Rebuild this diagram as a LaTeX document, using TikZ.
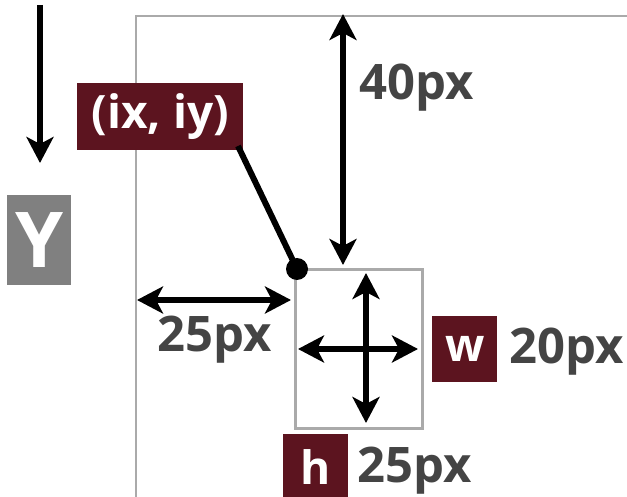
\documentclass[tikz,border=0pt]{standalone}
\usepackage{fontspec}
\setmainfont{Open Sans}
\usetikzlibrary{arrows.meta}
\definecolor{maroon}{HTML}{5C141F}
\definecolor{frame}{HTML}{AAAAAA}
\definecolor{dark}{HTML}{444444}
\definecolor{ygray}{HTML}{808080}
\tikzset{
  hd/.tip={Stealth[length=26pt,width=27pt,inset=7pt]},
  arr/.style={line width=6pt,-hd},
  darr/.style={line width=6pt,hd-hd},
  tag/.style={fill=maroon,text=white,font=\fontsize{46}{46}\selectfont\bfseries,inner sep=0pt,anchor=north west},
  lbl/.style={text=dark,font=\fontsize{49}{49}\selectfont\bfseries,inner sep=0pt},
}
\begin{document}
\begin{tikzpicture}[x=1pt,y=-1pt]
\useasboundingbox (0,0) rectangle (627,497);
% frame
\coordinate (fbl) at (136,497);
\coordinate (ftl) at (136,16);
\coordinate (ftr) at (627,16);
\draw[frame,line width=2pt] (fbl) -- (ftl) -- (ftr);
% Y axis arrow
\coordinate (ya) at (40,5);
\coordinate (yb) at (40,163);
\draw[arr] (ya) -- (yb);
\node[fill=ygray,minimum width=64pt,minimum height=90pt,inner sep=0pt,anchor=north west,text=white,font=\fontsize{77}{77}\selectfont\bfseries] (Y) at (7,195) {Y};
% small box
\node[draw=frame,line width=3pt,minimum width=127pt,minimum height=158pt,inner sep=0pt,anchor=north west] (box) at (293.5,268.5) {};
% ix iy label
\node[tag,minimum width=166pt,minimum height=67pt] (ixy) at (77,83) {(ix, iy)};
\coordinate (lk) at (238,146);
\node[circle,fill=black,minimum size=22pt,inner sep=0pt] (dot) at (297,269) {};
\draw[line width=6pt] (lk) -- (dot.center);
% 40px
\coordinate (t40) at (343,14);
\coordinate (b40) at (343,265);
\draw[darr] (t40) -- (b40);
\node[lbl] (l40) at (417,88) {40px};
% 25px left
\coordinate (l25a) at (137,300);
\coordinate (l25b) at (291,300);
\draw[darr] (l25a) -- (l25b);
\node[lbl] (l25) at (215,340) {25px};
% cross
\coordinate (cl) at (298,349);
\coordinate (cr) at (418,349);
\coordinate (ct) at (366,273);
\coordinate (cb) at (366,423);
\draw[darr] (cl) -- (cr);
\draw[darr] (ct) -- (cb);
% w
\node[tag,minimum width=65pt,minimum height=66pt] (w) at (432,316) {w};
\node[lbl] (l20) at (567,352) {20px};
% h
\node[tag,minimum width=65pt,minimum height=66pt] (h) at (283,434) {h};
\node[lbl] (lh25) at (415,471) {25px};
\end{tikzpicture}
\end{document}
